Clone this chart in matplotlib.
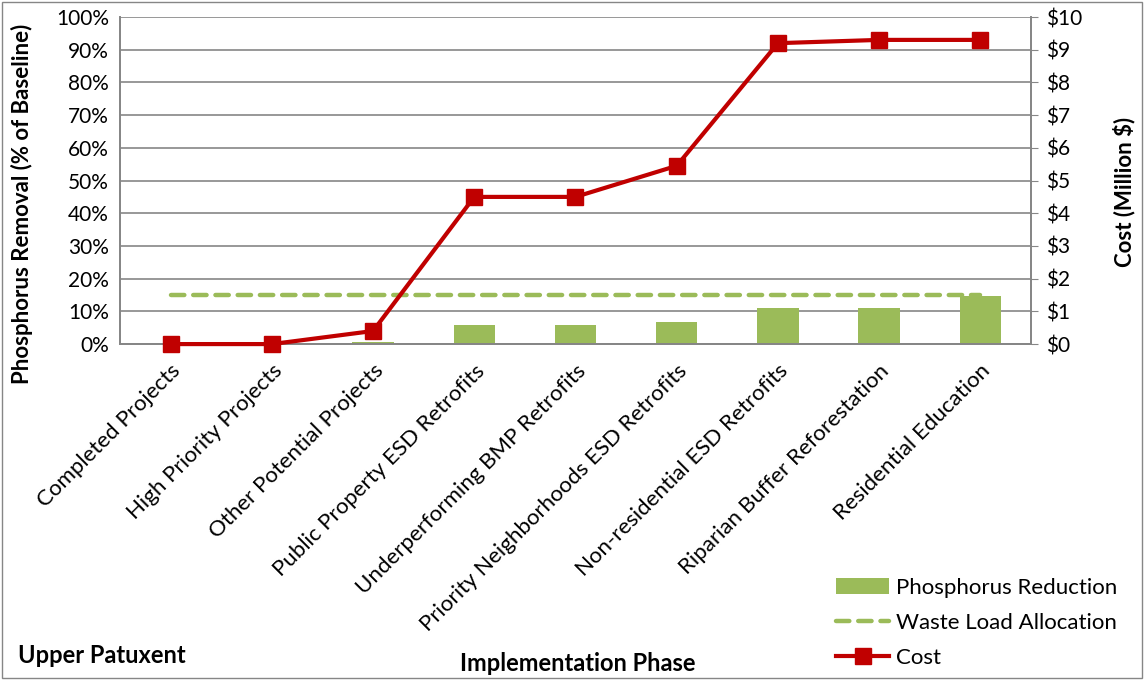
import matplotlib
matplotlib.use('Agg')

import numpy as np
import matplotlib.pyplot as plt
from matplotlib.patches import Rectangle
from matplotlib.ticker import FuncFormatter

plt.rcParams['font.family'] = ['Lato', 'DejaVu Sans']
plt.rcParams['font.size'] = 15

phases = ["Completed Projects", "High Priority Projects", "Other Potential Projects",
          "Public Property ESD Retrofits", "Underperforming BMP Retrofits",
          "Priority Neighborhoods ESD Retrofits", "Non-residential ESD Retrofits",
          "Riparian Buffer Reforestation", "Residential Education"]
reduction = [0.0, 0.0, 0.5, 5.8, 5.8, 6.7, 11.0, 11.0, 14.8]      # % of baseline
wla = [15, 15, 15, 15, 15, 15, 15, 15, 15]                         # % of baseline
cost = [0.0, 0.0, 0.4, 4.5, 4.5, 5.45, 9.2, 9.3, 9.3]              # million $

green = '#9BBB59'
red = '#C00000'
grey = '#868686'

fig = plt.figure(figsize=(11.44, 6.8), dpi=100)
ax = fig.add_axes([0.1049, 0.494, 0.7963, 0.481])
ax2 = ax.twinx()

x = np.arange(len(phases))
bars = ax.bar(x, reduction, 0.41, color=green, zorder=2, label='Phosphorus Reduction')
wl, = ax.plot(x, wla, color=green, lw=3.2, ls=(0, (3, 2)), dash_capstyle='round',
              zorder=3, label='Waste Load Allocation')
cl, = ax2.plot(x, cost, color=red, lw=3, marker='s', ms=11, clip_on=False,
               zorder=4, label='Cost')

ax.set_xlim(-0.5, len(phases) - 0.5)
ax.set_ylim(0, 100)
ax.set_yticks(np.arange(0, 101, 10))
ax.yaxis.set_major_formatter(FuncFormatter(lambda v, p: '%d%%' % v))
ax2.set_ylim(0, 10)
ax2.set_yticks(np.arange(0, 11, 1))
ax2.yaxis.set_major_formatter(FuncFormatter(lambda v, p: '$%d' % v))

ax.grid(axis='y', color=grey, lw=1.2, zorder=0)
ax.set_axisbelow(True)
for a in (ax, ax2):
    a.spines['top'].set_visible(False)
    for s in ('left', 'right', 'bottom'):
        a.spines[s].set_color(grey)
        a.spines[s].set_linewidth(1.3)
ax.tick_params(axis='y', length=0, pad=8, labelsize=15)
ax.tick_params(axis='x', length=0, pad=12, labelsize=16)
ax2.tick_params(axis='y', length=5, color=grey, pad=6, labelsize=15)

ax.set_xticks(x)
ax.set_xticklabels(phases, rotation=45, ha='right', rotation_mode='anchor')

ax.set_ylabel('Phosphorus Removal (% of Baseline)', fontweight='bold', fontsize=16)
ax.yaxis.set_label_coords(-0.096, 0.43)
ax2.set_ylabel('Cost (Million $)', fontweight='bold', fontsize=16)
ax2.yaxis.set_label_coords(1.09, 0.465)

fig.text(0.505, 0.013, 'Implementation Phase', ha='center', fontweight='bold', fontsize=17)
fig.text(0.016, 0.025, 'Upper Patuxent', ha='left', fontweight='bold', fontsize=17)

fig.legend([bars, wl, cl], ['Phosphorus Reduction', 'Waste Load Allocation', 'Cost'],
           loc='lower right', bbox_to_anchor=(0.994, -0.012), frameon=False,
           fontsize=16, handlelength=2.4, handletextpad=0.3, labelspacing=0.68)

fig.patches.append(Rectangle((0.002, 0.003), 0.996, 0.994, transform=fig.transFigure,
                             fill=False, edgecolor=grey, lw=1))

plt.savefig('out.png', dpi=100)
